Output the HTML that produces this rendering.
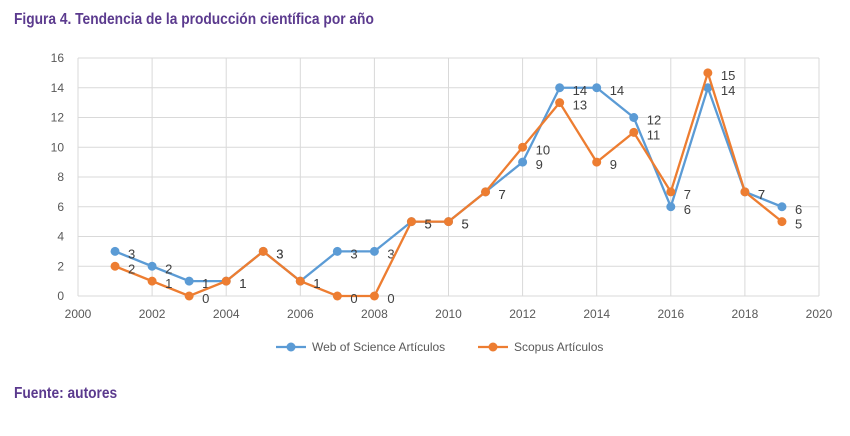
<!DOCTYPE html>
<html><head><meta charset="utf-8"><style>
body{margin:0;background:#fff;width:850px;height:436px;overflow:hidden;font-family:"Liberation Sans",sans-serif}
.t{position:absolute;color:#5b3a8e;font-weight:bold;font-size:16px;font-family:"Liberation Sans",sans-serif;transform-origin:left;white-space:nowrap}
</style></head><body>
<div class="t" style="left:14px;top:11px;transform:scaleX(0.86)">Figura 4. Tendencia de la producción científica por año</div>
<svg id="c" width="850" height="436" style="position:absolute;left:0;top:0"></svg>
<div class="t" style="left:14px;top:385px;transform:scaleX(0.86)">Fuente: autores</div>
<script>
const years=[2001,2002,2003,2004,2005,2006,2007,2008,2009,2010,2011,2012,2013,2014,2015,2016,2017,2018,2019];
const wos=[3,2,1,1,3,1,3,3,5,5,7,9,14,14,12,6,14,7,6];
const scopus=[2,1,0,1,3,1,0,0,5,5,7,10,13,9,11,7,15,7,5];
const xTicks=[2000,2002,2004,2006,2008,2010,2012,2014,2016,2018,2020];
const yTicks=[0,2,4,6,8,10,12,14,16];
const NS='http://www.w3.org/2000/svg',svg=document.getElementById('c');
const X=v=>78+(v-2000)*(819-78)/20, Y=v=>296-v*(296-58)/16;
function mk(t,a,p){const e=document.createElementNS(NS,t);for(const k in a)e.setAttribute(k,a[k]);(p||svg).appendChild(e);return e;}
yTicks.forEach(v=>{const l=mk('line',{x1:X(2000),x2:X(2020),y1:Y(v),y2:Y(v),stroke:'#d9d9d9'});

const t=mk('text',{x:64,y:Y(v)+4,'text-anchor':'end','font-size':12,fill:'#595959'});t.textContent=v;
});
xTicks.forEach(v=>{const l=mk('line',{x1:X(v),x2:X(v),y1:Y(16),y2:Y(0),stroke:'#d9d9d9'});

const t=mk('text',{x:X(v),y:318,'text-anchor':'middle','font-size':12,fill:'#595959'});t.textContent=v;
});
function series(d,col,name){
 const p=mk('polyline',{points:d.map((v,i)=>X(years[i])+','+Y(v)).join(' '),fill:'none',stroke:col,'stroke-width':2.3});
 
 d.forEach((v,i)=>{const c=mk('circle',{cx:X(years[i]),cy:Y(v),r:4.5,fill:col});
 
 const t=mk('text',{x:X(years[i])+13,y:Y(v)+7,'font-size':13,fill:'#404040'});t.textContent=v;
 });
}
series(wos,'#5b9bd5','wos');
series(scopus,'#ed7d31','scopus');
[[276,'#5b9bd5','Web of Science Artículos','legend-wos'],[478,'#ed7d31','Scopus Artículos','legend-scopus']].forEach(([x,c,s,n])=>{
 const g=mk('g',{});
 mk('line',{x1:x,x2:x+30,y1:347,y2:347,stroke:c,'stroke-width':2.3},g);
 mk('circle',{cx:x+15,cy:347,r:4.5,fill:c},g);
 const t=mk('text',{x:x+36,y:351,'font-size':12,fill:'#595959'},g);t.textContent=s;});
</script>
</body></html>
